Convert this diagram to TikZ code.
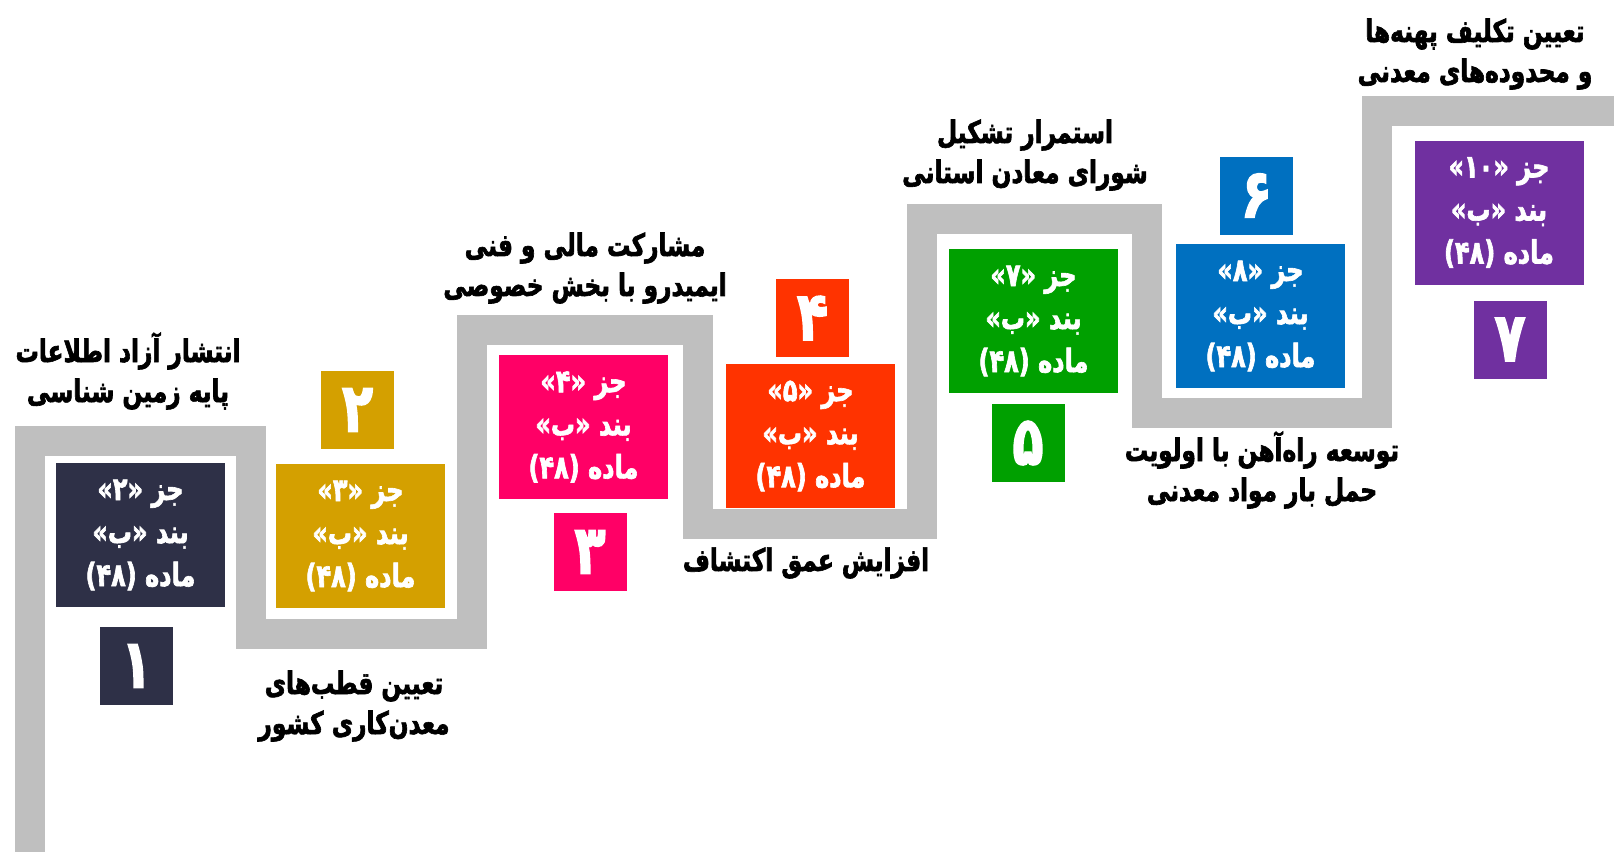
\documentclass[tikz,border=0pt]{standalone}
\usepackage{fontspec}
\newfontfamily\farsi[Script=Arabic,FakeStretch=0.75,BoldFeatures={FakeBold=2}]{DejaVu Sans}
\TeXXeTstate=1
\newcommand{\fa}[1]{\beginR #1\endR}
\newcommand{\jaz}[1]{\fa{جز «#1»}\\\fa{بند «ب»}\\\fa{ماده (۴۸)}}

\definecolor{stair}{HTML}{BFBFBF}
\definecolor{cnavy}{HTML}{2E3047}
\definecolor{cgold}{HTML}{D4A000}
\definecolor{cpink}{HTML}{FF0066}
\definecolor{cred}{HTML}{FF3300}
\definecolor{cgreen}{HTML}{00A000}
\definecolor{cblue}{HTML}{0070C0}
\definecolor{cpurple}{HTML}{7030A0}

\begin{document}
\begin{tikzpicture}[x=0.5pt,y=-0.5pt]
        \tikzstyle{jbox}=[inner sep=0pt,minimum width=84.5pt,minimum height=72pt,text=white,
                          align=center,font=\farsi\bfseries\fontsize{16}{21.5}\selectfont]
        \tikzstyle{nbox}=[inner sep=0pt,minimum width=36.5pt,minimum height=39pt,text=white,
                          font=\farsi\bfseries\fontsize{34}{34}\selectfont]
        \tikzstyle{titr}=[align=center,font=\farsi\bfseries\fontsize{15.5}{20}\selectfont]

      \useasboundingbox (0,0) rectangle (1614,852);

      \begin{scope}
         % staircase
         \draw[stair,line width=15pt,line join=miter]
              (29.5,870) -- (29.5,440.5) -- (251,440.5) -- (251,634) -- (471.5,634)
           -- (471.5,329.5) -- (697.5,329.5) -- (697.5,524) -- (922,524)
           -- (922,219) -- (1147,219) -- (1147,413) -- (1377,413)
           -- (1377,111) -- (1640,111);

         \node[jbox,fill=cnavy]   (j1) at (140.5,535) {\jaz{۲}};
         \node[jbox,fill=cgold]   (j2) at (360.5,536) {\jaz{۳}};
         \node[jbox,fill=cpink]   (j3) at (583.5,427) {\jaz{۴}};
         \node[jbox,fill=cred]    (j4) at (810.5,436) {\jaz{۵}};
         \node[jbox,fill=cgreen]  (j5) at (1033.5,321) {\jaz{۷}};
         \node[jbox,fill=cblue]   (j6) at (1260.5,316) {\jaz{۸}};
         \node[jbox,fill=cpurple] (j7) at (1499,212.5) {\jaz{۱۰}};

         \node[nbox,fill=cnavy]   (n1) at (136.5,666)  {۱};
         \node[nbox,fill=cgold]   (n2) at (357.5,410)  {۲};
         \node[nbox,fill=cpink]   (n3) at (590,552)    {۳};
         \node[nbox,fill=cred]    (n4) at (812.5,318)  {۴};
         \node[nbox,fill=cgreen]  (n5) at (1028,443)   {۵};
         \node[nbox,fill=cblue]   (n6) at (1256.5,195.5) {۶};
         \node[nbox,fill=cpurple] (n7) at (1510,339.5) {۷};

         \node[titr] (t1) at (128,371)  {\fa{انتشار آزاد اطلاعات}\\\fa{پایه زمین شناسی}};
         \node[titr] (t2) at (354,706)  {\fa{تعیین قطب‌های}\\\fa{معدن‌کاری کشور}};
         \node[titr] (t3) at (585,268)  {\fa{مشارکت مالی و فنی}\\\fa{ایمیدرو با بخش خصوصی}};
         \node[titr] (t4) at (806,563)  {\fa{افزایش عمق اکتشاف}};
         \node[titr] (t5) at (1025,155) {\fa{استمرار تشکیل}\\\fa{شورای معادن استانی}};
         \node[titr] (t6) at (1262,470) {\fa{توسعه راه‌آهن با اولویت}\\\fa{حمل بار مواد معدنی}};
         \node[titr] (t7) at (1475,54)  {\fa{تعیین تکلیف پهنه‌ها}\\\fa{و محدوده‌های معدنی}};

      \end{scope}
    \end{tikzpicture}
\end{document}
